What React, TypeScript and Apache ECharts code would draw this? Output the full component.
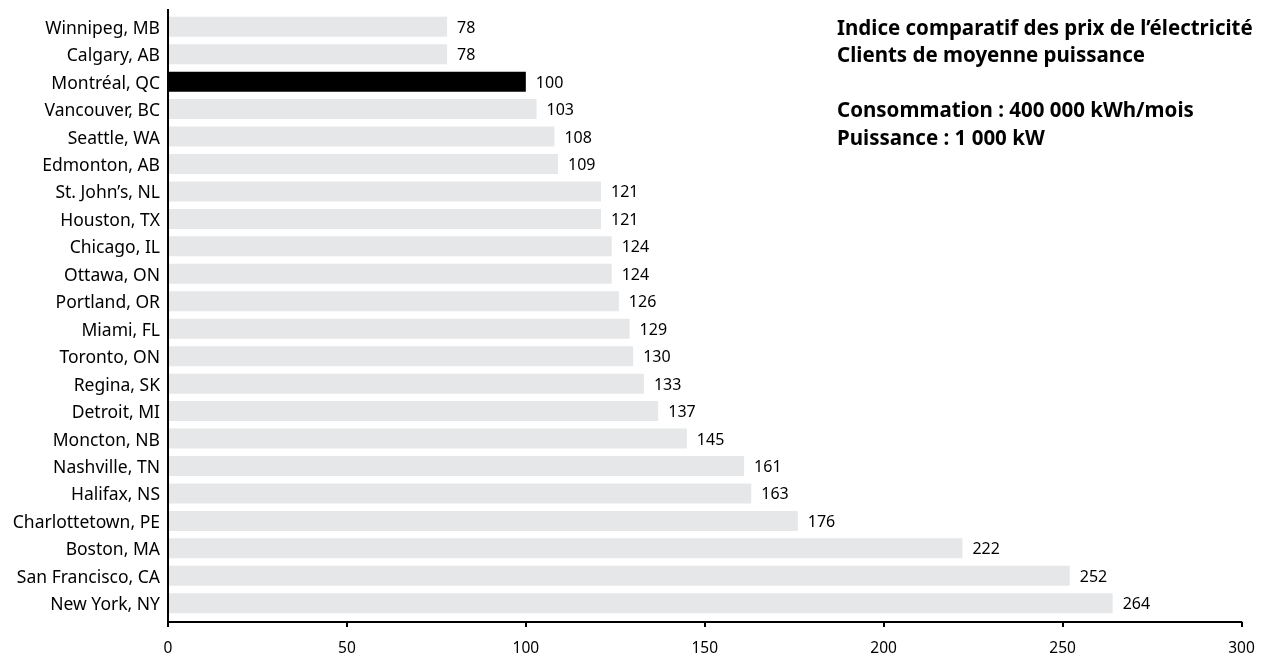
import React, { useEffect, useRef } from "react";
import * as echarts from "echarts";

const cities = [
  "Winnipeg, MB", "Calgary, AB", "Montréal, QC", "Vancouver, BC", "Seattle, WA",
  "Edmonton, AB", "St. John’s, NL", "Houston, TX", "Chicago, IL", "Ottawa, ON",
  "Portland, OR", "Miami, FL", "Toronto, ON", "Regina, SK", "Detroit, MI",
  "Moncton, NB", "Nashville, TN", "Halifax, NS", "Charlottetown, PE", "Boston, MA",
  "San Francisco, CA", "New York, NY",
];
const indexValues = [78, 78, 100, 103, 108, 109, 121, 121, 124, 124, 126, 129, 130, 133, 137, 145, 161, 163, 176, 222, 252, 264];
const highlightCity = "Montréal, QC";
const xTicks = [0, 50, 100, 150, 200, 250, 300];
const titleLines = [
  "Indice comparatif des prix de l’électricité",
  "Clients de moyenne puissance",
  "",
  "Consommation : 400 000 kWh/mois",
  "Puissance : 1 000 kW",
];

const FONT = "'Noto Sans', sans-serif";

export default function App() {
  const ref = useRef<HTMLDivElement>(null);
  useEffect(() => {
    if (!ref.current) return;
    const chart = echarts.init(ref.current, undefined, { renderer: "svg" });
    chart.setOption({
      animation: false,
      textStyle: { fontFamily: FONT },
      grid: { left: 168, right: 24.5, top: 13, bottom: 41, containLabel: false },
      xAxis: {
        type: "value",
        min: xTicks[0],
        max: xTicks[xTicks.length - 1],
        interval: 50,
        offset: 5,
        axisLine: { show: true, lineStyle: { color: "#000", width: 2 } },
        axisTick: { show: true, length: 5, lineStyle: { color: "#000", width: 2 } },
        axisLabel: { color: "#000", fontSize: 15.5, margin: 17, fontFamily: FONT },
        splitLine: { show: false },
      },
      yAxis: {
        type: "category",
        data: cities,
        inverse: true,
        axisLine: { show: false },
        axisTick: { show: false },
        axisLabel: { color: "#000", fontSize: 17.5, margin: 8, fontFamily: FONT },
      },
      graphic: [
        {
          type: "line",
          shape: { x1: 168, y1: 9, x2: 168, y2: 622 },
          style: { stroke: "#000", lineWidth: 2 },
          z: 10,
        },
        {
          type: "text",
          left: 837,
          top: 13,
          style: {
            text: titleLines.join("\n"),
            font: `bold 20.5px ${FONT}`,
            fill: "#000",
            lineHeight: 27.5,
          },
        },
      ],
      series: [
        {
          type: "bar",
          barWidth: 20,
          data: indexValues.map((v, i) => ({
            value: v,
            itemStyle: { color: cities[i] === highlightCity ? "#000" : "#e6e7e8" },
          })),
          label: {
            show: true,
            position: "right",
            distance: 10,
            color: "#000",
            fontSize: 16,
            fontFamily: FONT,
          },
        },
      ],
    });
    return () => chart.dispose();
  }, []);
  return (
    <div
      ref={ref}
      style={{ position: "fixed", left: 0, top: 0, width: 1266, height: 658 }}
    />
  );
}
